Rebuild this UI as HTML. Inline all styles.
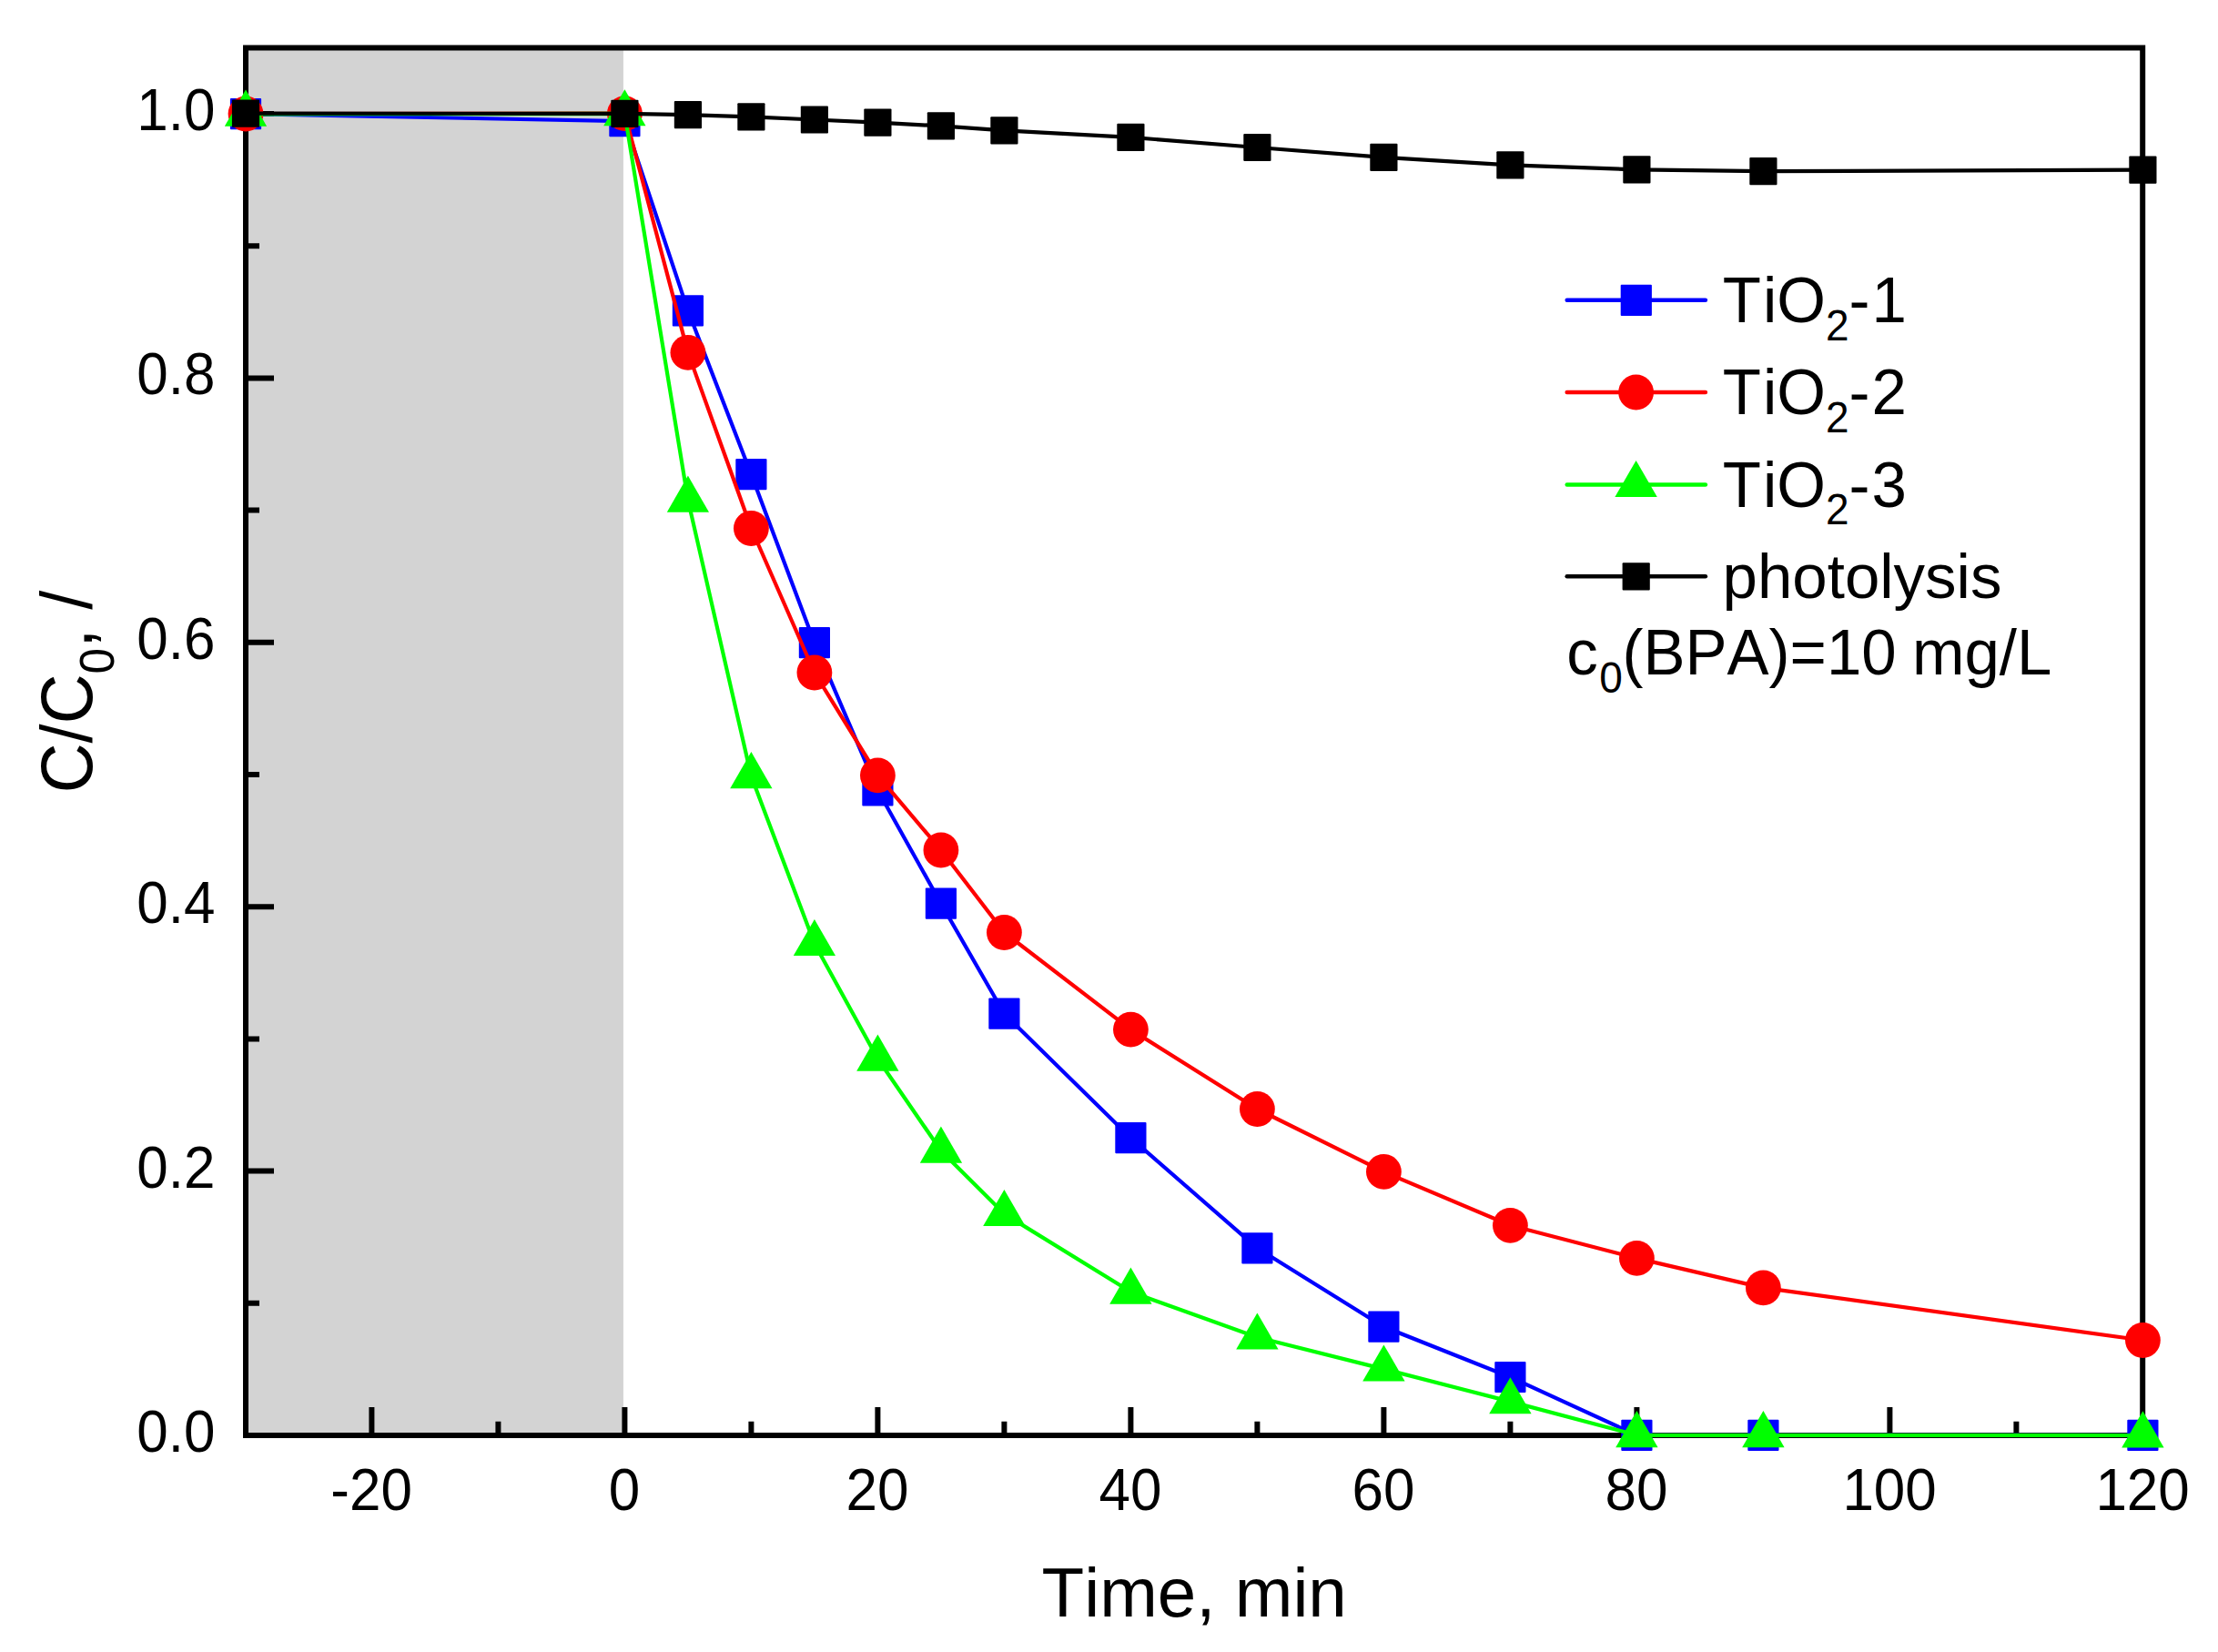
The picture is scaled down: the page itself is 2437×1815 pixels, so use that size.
<!DOCTYPE html>
<html lang="en"><head><meta charset="utf-8"><title>BPA photocatalytic degradation</title>
<style>html,body{margin:0;padding:0;background:#fff}body{width:2437px;height:1815px;overflow:hidden}svg{display:block}text{font-kerning:none;font-feature-settings:"kern" 0,"liga" 0;font-family:"Liberation Sans",Arial,Helvetica,sans-serif;fill:#000}.tk{font-size:62px}.lg{font-size:69px}.ti{font-size:76px}</style></head><body>
<svg width="2437" height="1815" viewBox="0 0 2437 1815">
<rect x="0" y="0" width="2437" height="1815" fill="#fff"/>
<rect x="270" y="52.5" width="414.9" height="1524.5" fill="#d3d3d3"/>
<path d="M270 1431.8 h15 M270 1286.6 h31 M270 1141.4 h15 M270 996.2 h31 M270 851 h15 M270 705.8 h31 M270 560.6 h15 M270 415.4 h31 M270 270.2 h15 M270 125 h31 M408.4 1577 v-31 M547.4 1577 v-15.2 M686.4 1577 v-31 M825.4 1577 v-15.2 M964.4 1577 v-31 M1103.4 1577 v-15.2 M1242.4 1577 v-31 M1381.4 1577 v-15.2 M1520.4 1577 v-31 M1659.4 1577 v-15.2 M1798.4 1577 v-31 M1937.4 1577 v-15.2 M2076.4 1577 v-31 M2215.4 1577 v-15.2" stroke="#000" stroke-width="6" fill="none"/>
<rect x="270" y="52.5" width="2084.2" height="1524.5" fill="none" stroke="#000" stroke-width="6"/>
<text class="tk" transform="translate(236.5 1594.9) scale(1 1.045)" text-anchor="end">0.0</text>
<text class="tk" transform="translate(236.5 1304.5) scale(1 1.045)" text-anchor="end">0.2</text>
<text class="tk" transform="translate(236.5 1014.1) scale(1 1.045)" text-anchor="end">0.4</text>
<text class="tk" transform="translate(236.5 723.7) scale(1 1.045)" text-anchor="end">0.6</text>
<text class="tk" transform="translate(236.5 433.3) scale(1 1.045)" text-anchor="end">0.8</text>
<text class="tk" transform="translate(236.5 142.9) scale(1 1.045)" text-anchor="end">1.0</text>
<text class="tk" transform="translate(408.1 1658.7) scale(1 1.045)" text-anchor="middle">-20</text>
<text class="tk" transform="translate(686.1 1658.7) scale(1 1.045)" text-anchor="middle">0</text>
<text class="tk" transform="translate(964.1 1658.7) scale(1 1.045)" text-anchor="middle">20</text>
<text class="tk" transform="translate(1242.1 1658.7) scale(1 1.045)" text-anchor="middle">40</text>
<text class="tk" transform="translate(1520.1 1658.7) scale(1 1.045)" text-anchor="middle">60</text>
<text class="tk" transform="translate(1798.1 1658.7) scale(1 1.045)" text-anchor="middle">80</text>
<text class="tk" transform="translate(2076.1 1658.7) scale(1 1.045)" text-anchor="middle">100</text>
<text class="tk" transform="translate(2354.1 1658.7) scale(1 1.045)" text-anchor="middle">120</text>
<text class="ti" style="font-size:76.4px" x="1312.2" y="1776.2" text-anchor="middle">Time, min</text>
<text class="ti" transform="translate(101.3 871.3) rotate(-90) scale(1 1.05)">C/C<tspan dy="22.4" font-size="51.4">0</tspan><tspan dy="-22.4">, /</tspan></text>
<polyline points="270,125.1 686.4,133.2 755.9,341.3 825.4,521.2 894.9,706.2 964.4,868.3 1033.9,992.7 1103.4,1113.7 1242.4,1250.2 1381.4,1371.3 1520.4,1457.7 1659.4,1513 1798.4,1576.8 1937.4,1576.8 2354.4,1576.8" fill="none" stroke="#0000ff" stroke-width="4.2" stroke-linejoin="round" stroke-linecap="round"/>
<rect x="252.9" y="108" width="34.2" height="34.2" rx="1" fill="#0000ff"/>
<rect x="669.3" y="116.1" width="34.2" height="34.2" rx="1" fill="#0000ff"/>
<rect x="738.8" y="324.2" width="34.2" height="34.2" rx="1" fill="#0000ff"/>
<rect x="808.3" y="504.1" width="34.2" height="34.2" rx="1" fill="#0000ff"/>
<rect x="877.8" y="689.1" width="34.2" height="34.2" rx="1" fill="#0000ff"/>
<rect x="947.3" y="851.2" width="34.2" height="34.2" rx="1" fill="#0000ff"/>
<rect x="1016.8" y="975.6" width="34.2" height="34.2" rx="1" fill="#0000ff"/>
<rect x="1086.3" y="1096.6" width="34.2" height="34.2" rx="1" fill="#0000ff"/>
<rect x="1225.3" y="1233.1" width="34.2" height="34.2" rx="1" fill="#0000ff"/>
<rect x="1364.3" y="1354.2" width="34.2" height="34.2" rx="1" fill="#0000ff"/>
<rect x="1503.3" y="1440.6" width="34.2" height="34.2" rx="1" fill="#0000ff"/>
<rect x="1642.3" y="1495.9" width="34.2" height="34.2" rx="1" fill="#0000ff"/>
<rect x="1781.3" y="1559.7" width="34.2" height="34.2" rx="1" fill="#0000ff"/>
<rect x="1920.3" y="1559.7" width="34.2" height="34.2" rx="1" fill="#0000ff"/>
<rect x="2337.3" y="1559.7" width="34.2" height="34.2" rx="1" fill="#0000ff"/>
<polyline points="270,125 686.4,124.7 755.9,387.4 825.4,580.5 894.9,739 964.4,851.9 1033.9,934 1103.4,1024.5 1242.4,1131.1 1381.4,1218.5 1520.4,1287.4 1659.4,1346.3 1798.4,1382.4 1937.4,1414.9 2354.4,1472.5" fill="none" stroke="#ff0000" stroke-width="4.2" stroke-linejoin="round" stroke-linecap="round"/>
<circle cx="270" cy="125" r="19.4" fill="#ff0000"/>
<circle cx="686.4" cy="124.7" r="19.4" fill="#ff0000"/>
<circle cx="755.9" cy="387.4" r="19.4" fill="#ff0000"/>
<circle cx="825.4" cy="580.5" r="19.4" fill="#ff0000"/>
<circle cx="894.9" cy="739" r="19.4" fill="#ff0000"/>
<circle cx="964.4" cy="851.9" r="19.4" fill="#ff0000"/>
<circle cx="1033.9" cy="934" r="19.4" fill="#ff0000"/>
<circle cx="1103.4" cy="1024.5" r="19.4" fill="#ff0000"/>
<circle cx="1242.4" cy="1131.1" r="19.4" fill="#ff0000"/>
<circle cx="1381.4" cy="1218.5" r="19.4" fill="#ff0000"/>
<circle cx="1520.4" cy="1287.4" r="19.4" fill="#ff0000"/>
<circle cx="1659.4" cy="1346.3" r="19.4" fill="#ff0000"/>
<circle cx="1798.4" cy="1382.4" r="19.4" fill="#ff0000"/>
<circle cx="1937.4" cy="1414.9" r="19.4" fill="#ff0000"/>
<circle cx="2354.4" cy="1472.5" r="19.4" fill="#ff0000"/>
<polyline points="270,125.3 686.4,124.9 755.9,549.3 825.4,852.8 894.9,1036.7 964.4,1163.3 1033.9,1264.3 1103.4,1333.6 1242.4,1419.3 1381.4,1469.2 1520.4,1504.1 1659.4,1539.9 1798.4,1576.8 1937.4,1576.8 2354.4,1577" fill="none" stroke="#00ff00" stroke-width="4.2" stroke-linejoin="round" stroke-linecap="round"/>
<polygon points="270,98.6 293.1,138.7 246.8,138.7" fill="#00ff00"/>
<polygon points="686.4,98.2 709.5,138.3 663.2,138.3" fill="#00ff00"/>
<polygon points="755.9,522.6 779,562.7 732.8,562.7" fill="#00ff00"/>
<polygon points="825.4,826.1 848.5,866.2 802.2,866.2" fill="#00ff00"/>
<polygon points="894.9,1010 918,1050.1 871.8,1050.1" fill="#00ff00"/>
<polygon points="964.4,1136.6 987.5,1176.7 941.2,1176.7" fill="#00ff00"/>
<polygon points="1033.9,1237.6 1057.1,1277.7 1010.8,1277.7" fill="#00ff00"/>
<polygon points="1103.4,1306.9 1126.6,1347 1080.2,1347" fill="#00ff00"/>
<polygon points="1242.4,1392.6 1265.6,1432.7 1219.2,1432.7" fill="#00ff00"/>
<polygon points="1381.4,1442.5 1404.6,1482.6 1358.2,1482.6" fill="#00ff00"/>
<polygon points="1520.4,1477.4 1543.6,1517.5 1497.2,1517.5" fill="#00ff00"/>
<polygon points="1659.4,1513.2 1682.6,1553.3 1636.2,1553.3" fill="#00ff00"/>
<polygon points="1798.4,1550.1 1821.6,1590.2 1775.2,1590.2" fill="#00ff00"/>
<polygon points="1937.4,1550.1 1960.6,1590.2 1914.2,1590.2" fill="#00ff00"/>
<polygon points="2354.4,1550.3 2377.6,1590.4 2331.2,1590.4" fill="#00ff00"/>
<polyline points="270,124.6 686.4,124.9 755.9,126.2 825.4,128.4 894.9,131.5 964.4,134.6 1033.9,138.4 1103.4,143.3 1242.4,150.9 1381.4,162 1520.4,172.9 1659.4,181.3 1798.4,186.4 1937.4,188.1 2354.4,186.7" fill="none" stroke="#000" stroke-width="4.2" stroke-linejoin="round" stroke-linecap="round"/>
<rect x="254.9" y="109.5" width="30.2" height="30.2" rx="1" fill="#000"/>
<rect x="671.3" y="109.8" width="30.2" height="30.2" rx="1" fill="#000"/>
<rect x="740.8" y="111.1" width="30.2" height="30.2" rx="1" fill="#000"/>
<rect x="810.3" y="113.3" width="30.2" height="30.2" rx="1" fill="#000"/>
<rect x="879.8" y="116.4" width="30.2" height="30.2" rx="1" fill="#000"/>
<rect x="949.3" y="119.5" width="30.2" height="30.2" rx="1" fill="#000"/>
<rect x="1018.8" y="123.3" width="30.2" height="30.2" rx="1" fill="#000"/>
<rect x="1088.3" y="128.2" width="30.2" height="30.2" rx="1" fill="#000"/>
<rect x="1227.3" y="135.8" width="30.2" height="30.2" rx="1" fill="#000"/>
<rect x="1366.3" y="146.9" width="30.2" height="30.2" rx="1" fill="#000"/>
<rect x="1505.3" y="157.8" width="30.2" height="30.2" rx="1" fill="#000"/>
<rect x="1644.3" y="166.2" width="30.2" height="30.2" rx="1" fill="#000"/>
<rect x="1783.3" y="171.3" width="30.2" height="30.2" rx="1" fill="#000"/>
<rect x="1922.3" y="173" width="30.2" height="30.2" rx="1" fill="#000"/>
<rect x="2339.3" y="171.6" width="30.2" height="30.2" rx="1" fill="#000"/>
<line x1="1721.7" y1="329.8" x2="1873.9" y2="329.8" stroke="#0000ff" stroke-width="4.5" stroke-linecap="round"/>
<line x1="1721.7" y1="431" x2="1873.9" y2="431" stroke="#ff0000" stroke-width="4.5" stroke-linecap="round"/>
<line x1="1721.7" y1="532.4" x2="1873.9" y2="532.4" stroke="#00ff00" stroke-width="4.5" stroke-linecap="round"/>
<line x1="1721.7" y1="633.3" x2="1873.9" y2="633.3" stroke="#000" stroke-width="4.5" stroke-linecap="round"/>
<rect x="1780.7" y="312.7" width="34.2" height="34.2" rx="1" fill="#0000ff"/>
<circle cx="1797.6" cy="431" r="19.4" fill="#ff0000"/>
<polygon points="1797.6,505.9 1820.8,546 1774.4,546" fill="#00ff00"/>
<rect x="1782.6" y="618.2" width="30.2" height="30.2" rx="1" fill="#000"/>
<text class="lg" transform="translate(1892.8 354) scale(1 1.03)"><tspan dx="0 2">TiO</tspan><tspan dy="19" font-size="46">2</tspan><tspan dy="-19" dx="0 2">-1</tspan></text>
<text class="lg" transform="translate(1892.8 455.2) scale(1 1.03)"><tspan dx="0 2">TiO</tspan><tspan dy="19" font-size="46">2</tspan><tspan dy="-19" dx="0 2">-2</tspan></text>
<text class="lg" transform="translate(1892.8 556.6) scale(1 1.03)"><tspan dx="0 2">TiO</tspan><tspan dy="19" font-size="46">2</tspan><tspan dy="-19" dx="0 2">-3</tspan></text>
<text class="lg" transform="translate(1892.6 657) scale(1 1)">photolysis</text>
<text class="lg" transform="translate(1721.3 741.1) scale(1 1.03)">c<tspan dy="19.2" dx="1.5" font-size="46">0</tspan><tspan dy="-19.2" dx="-0.3 0 0 0 0 0 0 0 0 -1.8">(BPA)=10 mg/L</tspan></text>
</svg></body></html>
